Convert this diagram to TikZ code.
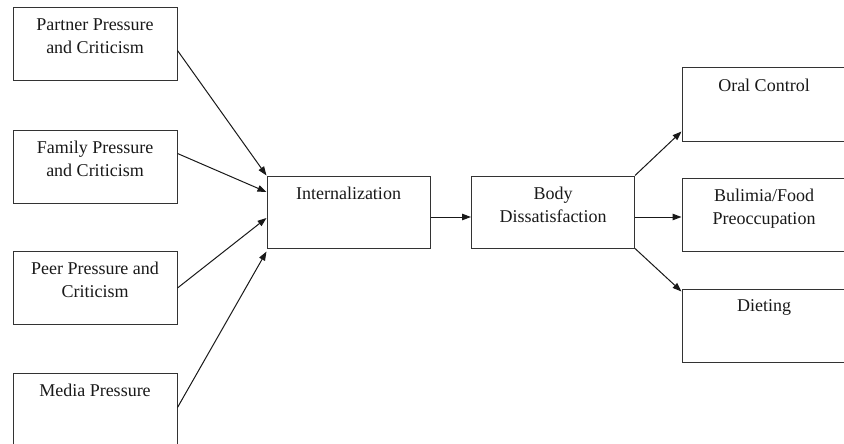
\documentclass[tikz,border=0pt]{standalone}
\usepackage{fontspec}
\setmainfont{Liberation Serif}
\usetikzlibrary{arrows.meta}
\begin{document}
\begin{tikzpicture}[x=1pt,y=-1pt,
  box/.style={draw=black!80, line width=1pt, minimum width=164pt, minimum height=73pt, inner sep=0pt},
  midbox/.style={box, minimum width=163pt, minimum height=72pt},
  lbl/.style={anchor=north, inner sep=0pt, align=center, text=black!90, font=\fontsize{18}{23}\selectfont},
  conn/.style={line width=1pt, black!90, -{Triangle[length=9pt,width=6.5pt]}}]
\path[use as bounding box] (0,0) rectangle (844,444);
\clip (0,0) rectangle (844,444);
% left column
\node[box] (p) at (95,44.5) {};
\node[box] (f) at (95,166.5) {};
\node[box] (r) at (95,288) {};
\node[box] (m) at (95,409.5) {};
% middle
\node[midbox] (int) at (348.5,212) {};
\node[midbox] (body) at (553,212) {};
% right column
\node[box] (oral) at (764,104.5) {};
\node[box] (bul) at (764,215) {};
\node[box] (diet) at (764,325.5) {};
% labels
\node[lbl] (pt) at ([yshift=-11pt]p.north) {Partner Pressure\\and Criticism};
\node[lbl] (ft) at ([yshift=-11pt]f.north) {Family Pressure\\and Criticism};
\node[lbl] (rt) at ([yshift=-11pt]r.north) {Peer Pressure and\\Criticism};
\node[lbl] (mt) at ([yshift=-11pt]m.north) {Media Pressure};
\node[lbl] (intt) at ([yshift=-11pt]int.north) {Internalization};
\node[lbl] (bodyt) at ([yshift=-11pt]body.north) {Body\\Dissatisfaction};
\node[lbl] (oralt) at ([yshift=-11pt]oral.north) {Oral Control};
\node[lbl] (bult) at ([yshift=-11pt]bul.north) {Bulimia/Food\\Preoccupation};
\node[lbl] (diett) at ([yshift=-11pt]diet.north) {Dieting};
% connectors
\draw[conn] ([yshift=-6pt]p.east) -- (int.north west);
\draw[conn] ([yshift=13pt]f.east) -- ([yshift=20pt]int.west);
\draw[conn] (r.east) -- ([yshift=-6pt]int.west);
\draw[conn] ([yshift=2pt]m.east) -- ([yshift=-3pt]int.south west);
\draw[conn] ([yshift=-5pt]int.east) -- ([yshift=-5pt]body.west);
\draw[conn] (body.north east) -- ([yshift=10pt]oral.south west);
\draw[conn] ([yshift=-5pt]body.east) -- ([yshift=-2pt]bul.west);
\draw[conn] (body.south east) -- ([yshift=-3pt]diet.north west);
\end{tikzpicture}
\end{document}
